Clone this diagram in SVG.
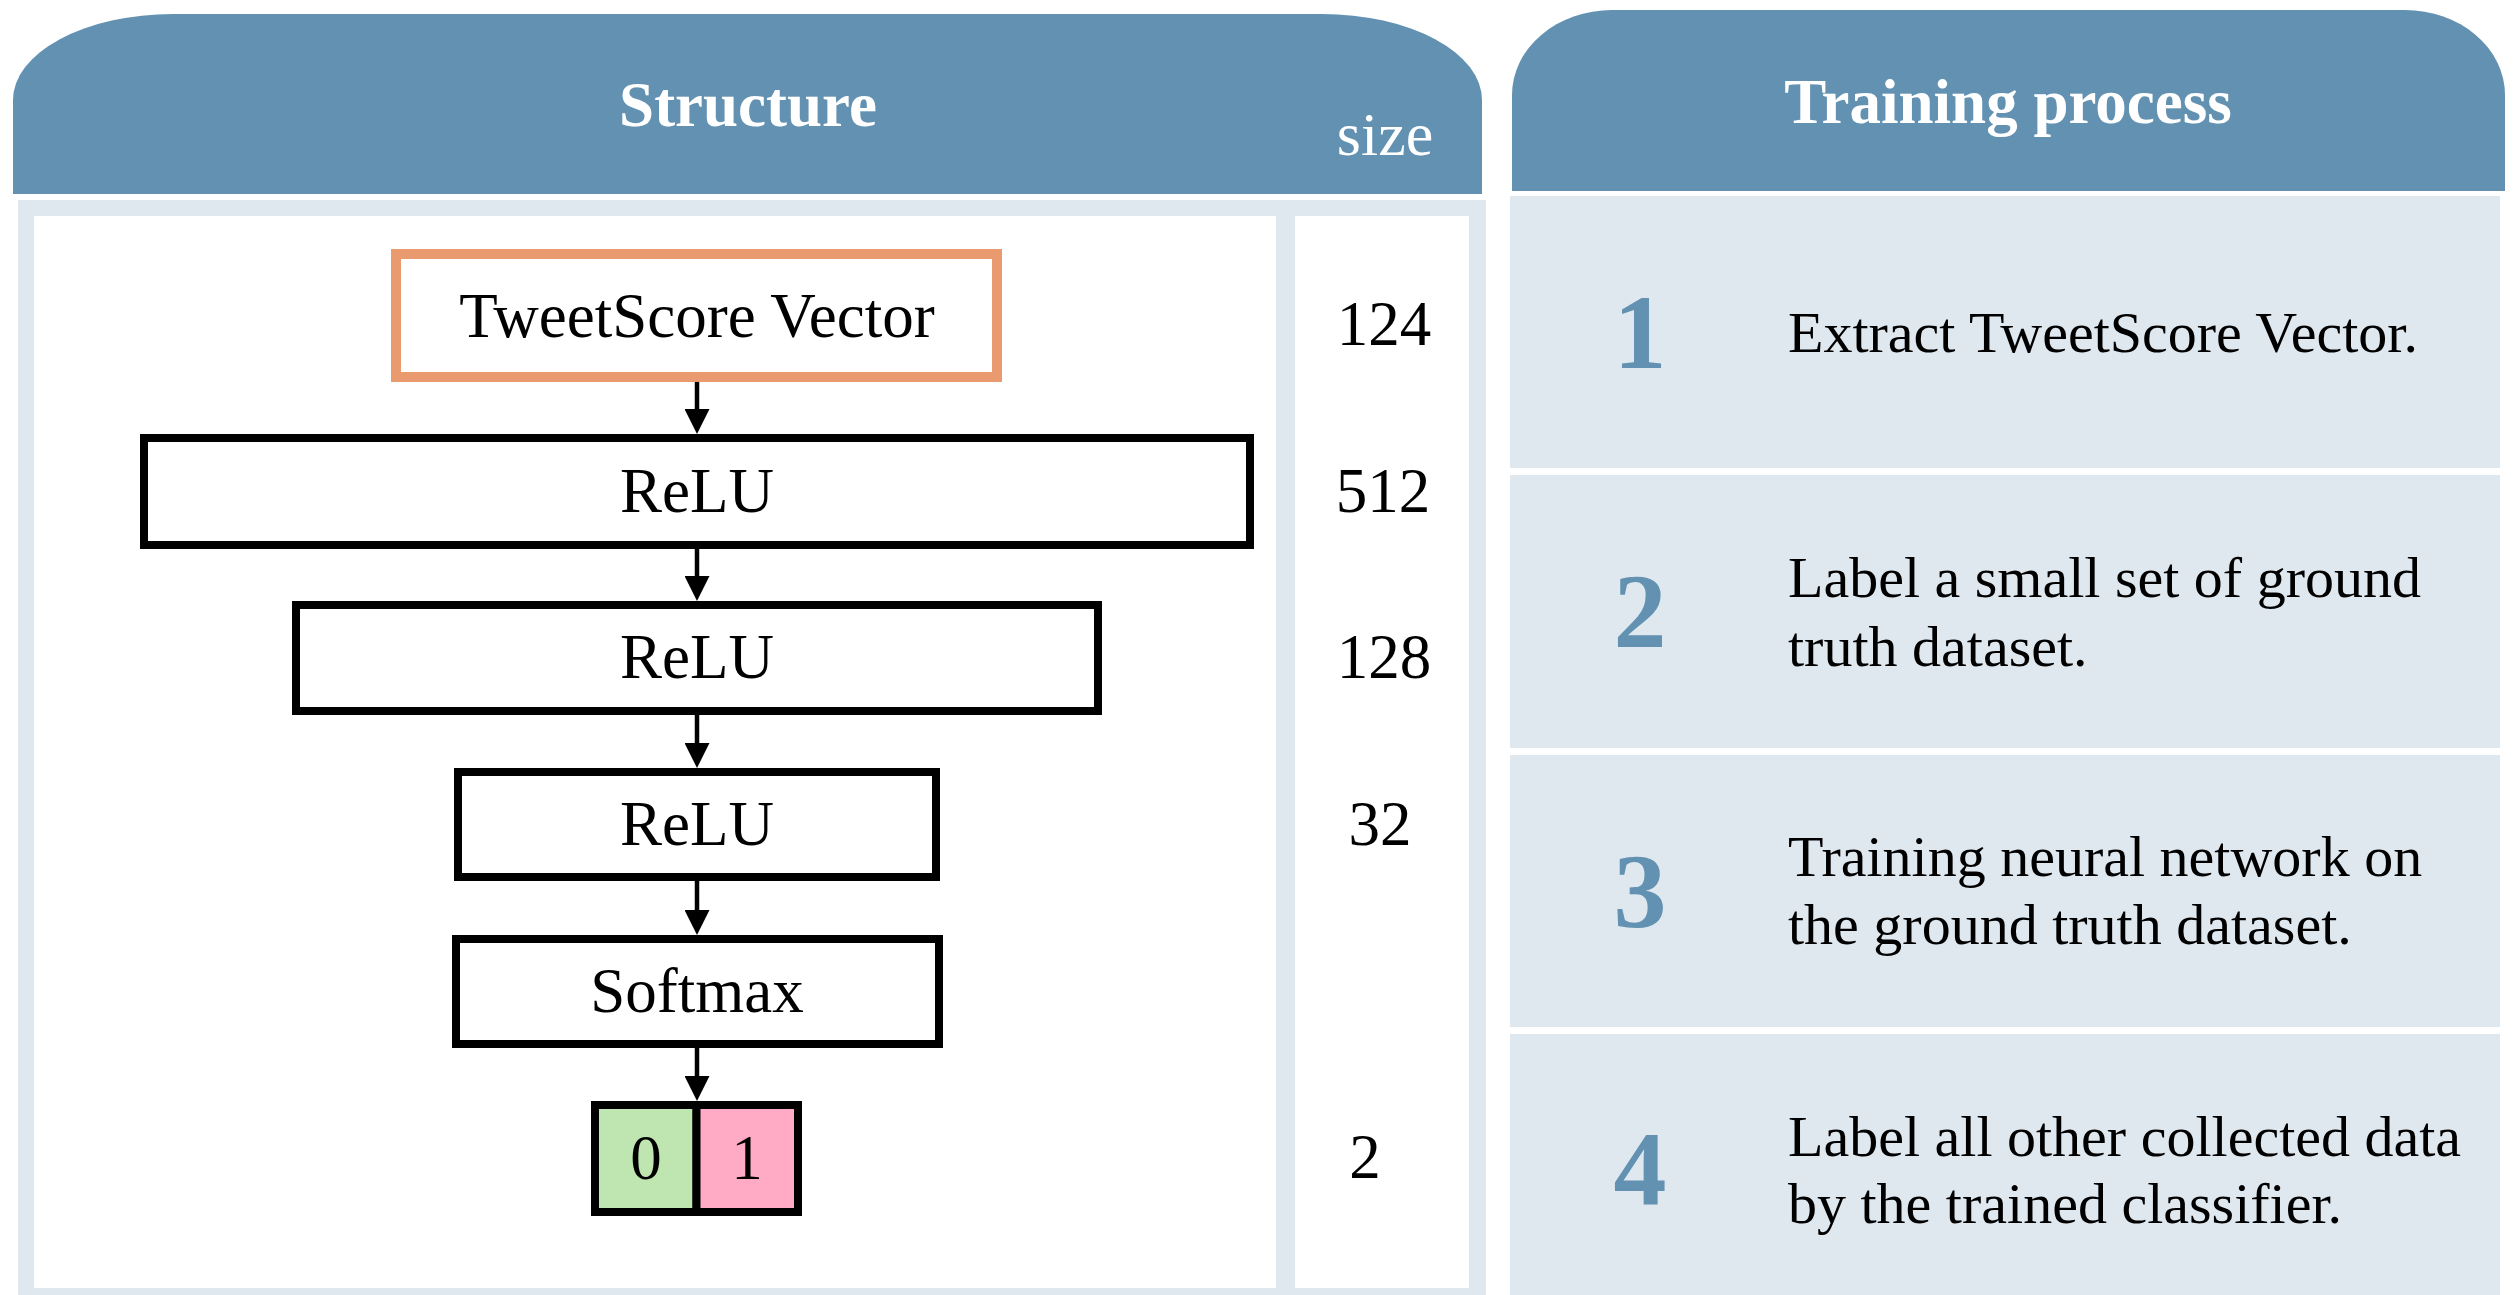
<svg xmlns="http://www.w3.org/2000/svg" width="2517" height="1295" viewBox="0 0 2517 1295">
  <style>
    .hdr { fill: #6291B1; }
    .light { fill: #DFE7EF; }
    .white { fill: #FFFFFF; }
    .hdrtext { font-family: "Liberation Serif", "Times New Roman", serif; fill: #FFFFFF; text-anchor: middle; }
    .lbl { font-family: "Liberation Serif", "Times New Roman", serif; font-size: 63px; fill: #000000; text-anchor: middle; }
    .layer { fill: #FFFFFF; stroke: #000000; stroke-width: 8; }
    .step-num { font-family: "Liberation Serif", "Times New Roman", serif; font-weight: bold; font-size: 106px; fill: #6291B1; text-anchor: middle; }
    .step-text { font-family: "Liberation Serif", "Times New Roman", serif; font-size: 58px; fill: #000000; }
    .conn { stroke: #000000; stroke-width: 4.5; fill: none; }
  </style>
  <defs>
    <marker id="arrow" markerUnits="userSpaceOnUse" markerWidth="25" markerHeight="25" refX="0" refY="12.5" orient="auto">
      <path d="M0,0 L25,12.5 L0,25 Z" fill="#000000"/>
    </marker>
  </defs>

  <rect width="2517" height="1295" fill="#FFFFFF"/>

  <!-- Structure panel -->
  <g id="structure-panel">
    <path class="hdr" d="M13,194 L13,100 A160,86 0 0 1 173,14 L1322,14 A160,86 0 0 1 1482,100 L1482,194 Z"/>
    <text class="hdrtext" x="748" y="126" font-size="63" font-weight="bold">Structure</text>
    <text class="hdrtext" x="1385" y="155" font-size="62">size</text>
    <rect class="light" x="18" y="200" width="1468" height="1095"/>
    <rect class="white" x="34" y="216" width="1242" height="1072"/>
    <rect class="white" x="1295" y="216" width="174" height="1072"/>
  </g>

  <!-- Training process panel -->
  <g id="training-panel">
    <path class="hdr" d="M1512,191 L1512,95 A100,85 0 0 1 1612,10 L2405,10 A100,85 0 0 1 2505,95 L2505,191 Z"/>
    <text class="hdrtext" x="2008" y="123" font-size="63" font-weight="bold">Training process</text>
  </g>

  <!-- Network layers -->
  <g id="node-input">
    <rect x="396" y="254" width="601" height="123" fill="#FFFFFF" stroke="#E99A6E" stroke-width="10"/>
    <text class="lbl" x="697" y="337">TweetScore Vector</text>
  </g>
  <g id="node-relu1">
    <rect class="layer" x="144" y="438" width="1106" height="107"/>
    <text class="lbl" x="697" y="512">ReLU</text>
  </g>
  <g id="node-relu2">
    <rect class="layer" x="296" y="605" width="802" height="106"/>
    <text class="lbl" x="697" y="678">ReLU</text>
  </g>
  <g id="node-relu3">
    <rect class="layer" x="458" y="772" width="478" height="105"/>
    <text class="lbl" x="697" y="845">ReLU</text>
  </g>
  <g id="node-softmax">
    <rect class="layer" x="456" y="939" width="483" height="105"/>
    <text class="lbl" x="697" y="1012">Softmax</text>
  </g>
  <g id="node-output">
    <rect x="595" y="1105" width="101.5" height="107" fill="#BFE6B0" stroke="#000000" stroke-width="8"/>
    <rect x="696.5" y="1105" width="101.5" height="107" fill="#FFABC6" stroke="#000000" stroke-width="8"/>
    <text class="lbl" x="646" y="1179">0</text>
    <text class="lbl" x="747" y="1179">1</text>
  </g>

  <!-- Layer sizes -->
  <g id="sizes">
    <text class="lbl" x="1384" y="345">124</text>
    <text class="lbl" x="1383" y="512">512</text>
    <text class="lbl" x="1384" y="678">128</text>
    <text class="lbl" x="1380" y="845">32</text>
    <text class="lbl" x="1365" y="1178">2</text>
  </g>

  <!-- Connectors -->
  <g id="connectors">
    <line class="conn" x1="697" y1="382" x2="697" y2="409" marker-end="url(#arrow)"/>
    <line class="conn" x1="697" y1="549" x2="697" y2="576" marker-end="url(#arrow)"/>
    <line class="conn" x1="697" y1="715" x2="697" y2="743" marker-end="url(#arrow)"/>
    <line class="conn" x1="697" y1="881" x2="697" y2="910" marker-end="url(#arrow)"/>
    <line class="conn" x1="697" y1="1048" x2="697" y2="1076" marker-end="url(#arrow)"/>
  </g>

  <!-- Training steps -->
  <g id="step-1">
    <rect class="light" x="1510" y="196" width="990" height="272"/>
    <text class="step-num" x="1640" y="368">1</text>
    <text class="step-text" x="1788" y="352">Extract TweetScore Vector.</text>
  </g>
  <g id="step-2">
    <rect class="light" x="1510" y="475" width="990" height="273"/>
    <text class="step-num" x="1640" y="647">2</text>
    <text class="step-text" x="1788" y="597">Label a small set of ground</text>
    <text class="step-text" x="1788" y="666">truth dataset.</text>
  </g>
  <g id="step-3">
    <rect class="light" x="1510" y="755" width="990" height="272"/>
    <text class="step-num" x="1640" y="927">3</text>
    <text class="step-text" x="1788" y="876">Training neural network on</text>
    <text class="step-text" x="1788" y="944">the ground truth dataset.</text>
  </g>
  <g id="step-4">
    <rect class="light" x="1510" y="1034" width="990" height="261"/>
    <text class="step-num" x="1640" y="1205">4</text>
    <text class="step-text" x="1788" y="1156">Label all other collected data</text>
    <text class="step-text" x="1788" y="1223">by the trained classifier.</text>
  </g>
</svg>
